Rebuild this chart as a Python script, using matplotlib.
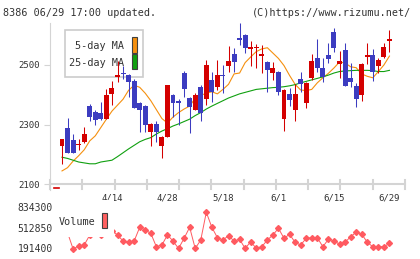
import numpy as np
import matplotlib
matplotlib.use("Agg")
import matplotlib.pyplot as plt
from matplotlib.patches import Rectangle
import matplotlib.transforms as mtransforms

plt.rcParams['font.family'] = 'DejaVu Sans Mono'

# daily candles, 4/1 .. 6/29
opens = [2228, 2288, 2248, 2230, 2241, 2362, 2342, 2338, 2318, 2402,
         2460, 2474, 2466, 2446, 2372, 2362, 2275, 2302, 2229, 2258,
         2399, 2379, 2473, 2389, 2349, 2427, 2386, 2450, 2427, 2466,
         2497, 2537, 2592, 2601, 2555, 2556, 2530, 2511, 2473, 2477,
         2318, 2402, 2349, 2453, 2372, 2456, 2525, 2491, 2533, 2612,
         2504, 2550, 2457, 2429, 2399, 2527, 2533, 2497, 2528, 2582]
highs = [2251, 2322, 2268, 2250, 2292, 2369, 2350, 2376, 2419, 2446,
         2513, 2495, 2470, 2452, 2375, 2365, 2305, 2312, 2260, 2433,
         2403, 2385, 2480, 2392, 2406, 2433, 2517, 2477, 2517, 2500,
         2565, 2558, 2641, 2605, 2580, 2570, 2567, 2513, 2511, 2480,
         2418, 2422, 2436, 2476, 2443, 2537, 2587, 2523, 2574, 2624,
         2547, 2574, 2507, 2440, 2506, 2574, 2554, 2522, 2574, 2617]
lows = [2167, 2204, 2203, 2215, 2237, 2312, 2298, 2314, 2318, 2366,
        2443, 2452, 2392, 2355, 2275, 2275, 2229, 2242, 2188, 2258,
        2325, 2298, 2392, 2271, 2349, 2312, 2366, 2377, 2416, 2406,
        2477, 2477, 2567, 2540, 2497, 2490, 2473, 2410, 2450, 2399,
        2278, 2362, 2312, 2410, 2355, 2450, 2477, 2443, 2507, 2544,
        2456, 2431, 2427, 2360, 2379, 2503, 2446, 2473, 2523, 2545]
closes = [2251, 2204, 2204, 2235, 2268, 2325, 2315, 2318, 2399, 2422,
          2466, 2470, 2443, 2355, 2349, 2298, 2302, 2275, 2258, 2433,
          2373, 2373, 2419, 2359, 2399, 2339, 2500, 2410, 2466, 2463,
          2513, 2510, 2583, 2558, 2562, 2562, 2537, 2483, 2490, 2410,
          2416, 2382, 2402, 2436, 2440, 2513, 2490, 2461, 2520, 2556,
          2513, 2431, 2444, 2386, 2503, 2533, 2477, 2517, 2560, 2587]

ma5 = [2144, 2155, 2177, 2195, 2215, 2245, 2262, 2290, 2318, 2345,
       2365, 2385, 2415, 2432, 2425, 2405, 2380, 2350, 2320, 2305,
       2325, 2340, 2352, 2362, 2388, 2398, 2405, 2410, 2403, 2418,
       2435, 2470, 2473, 2508, 2527, 2545, 2554, 2558, 2540, 2522,
       2498, 2465, 2435, 2416, 2414, 2418, 2440, 2457, 2472, 2490,
       2510, 2507, 2494, 2491, 2470, 2462, 2457, 2478, 2500, 2530]
ma25 = [2190, 2186, 2180, 2174, 2171, 2168, 2168, 2174, 2177, 2180,
        2192, 2205, 2218, 2230, 2242, 2250, 2256, 2268, 2278, 2286,
        2295, 2302, 2310, 2318, 2330, 2340, 2352, 2362, 2371, 2380,
        2389, 2396, 2403, 2408, 2413, 2418, 2420, 2422, 2424, 2425,
        2427, 2430, 2434, 2440, 2445, 2450, 2455, 2460, 2466, 2473,
        2478, 2480, 2481, 2482, 2482, 2482, 2481, 2478, 2478, 2482]

volume = [480000, 452000, 191400, 239000, 255000, 412000, 490000, 412000, 555000, 485000,
          414000, 318000, 297000, 318000, 536000, 493000, 440000, 228000, 255000, 414000,
          318000, 200000, 361000, 536000, 200000, 334000, 774000, 536000, 371000, 334000,
          403000, 318000, 345000, 200000, 307000, 202000, 228000, 334000, 414000, 520000,
          361000, 425000, 297000, 255000, 361000, 371000, 371000, 228000, 345000, 323000,
          266000, 297000, 387000, 456000, 430000, 297000, 228000, 228000, 228000, 281000]

date_idx = [9, 19, 29, 39, 49, 59]
date_labels = ["4/14", "4/28", "5/18", "6/1", "6/15", "6/29"]
price_ticks = [2100, 2300, 2500]
vol_ticks = [191400, 512850, 834300]

RED = '#d40000'
BLUE = '#3c3cc0'
ORANGE = '#f5900f'
GREEN = '#10a010'
VOLC = '#ff5a60'
GRAY = '#d4d4d4'
TXT = '#333333'

W, H = 420, 259
fig = plt.figure(figsize=(W / 100, H / 100), dpi=100)

def fx(x):
    return x / W

def fy(y):
    return 1 - y / H

ax = fig.add_axes([fx(50), fy(190), fx(405) - fx(50), fy(20) - fy(190)])
xl0, xl1 = -12 / 5.55, 343 / 5.55
ax.set_xlim(xl0, xl1)
ax.set_ylim(2079.9, 2651.2)
for s in ax.spines.values():
    s.set_visible(False)

idx = np.arange(len(closes))
o = np.array(opens); c = np.array(closes)
cols = [RED if cc >= oo else BLUE for oo, cc in zip(o, c)]
ax.vlines(idx, lows, highs, colors=cols, lw=0.75, zorder=3)
body = np.maximum(np.abs(c - o), 4)
ax.bar(idx, body, 0.9, bottom=np.minimum(o, c), color=cols, zorder=4)

ax.plot(idx, ma5, color=ORANGE, lw=0.8, zorder=2)
ax.plot(idx, ma25, color=GREEN, lw=0.8, zorder=2)

# clipped candle before the first day
ax.plot([-1.45, -0.55], [2088, 2088], color=RED, lw=1.2, clip_on=False)

# axis lines and ticks
ax.plot([xl0, xl0], [2080, 2641], color=GRAY, lw=0.8, clip_on=False)
ax.plot([xl0, xl1], [2100, 2100], color=GRAY, lw=1.5, clip_on=False, zorder=1)
for k in range(12):
    x = xl0 + k * (xl1 - xl0) / 11
    ax.plot([x, x], [2082, 2113], color=GRAY, lw=1.5, clip_on=False, zorder=1)

ax.set_yticks(price_ticks)
ax.tick_params(axis='y', length=4.3, width=0.8, color=GRAY, pad=3,
               labelsize=6.5, labelcolor=TXT)
ax.set_xticks(date_idx, date_labels)
ax.tick_params(axis='x', length=0, pad=2.5, labelsize=6.5, labelcolor=TXT)

# legend
def rect(a, x0, y0, x1, y1, **kw):
    r = Rectangle((fx(x0), fy(y1)), fx(x1) - fx(x0), fy(y0) - fy(y1),
                  transform=fig.transFigure, clip_on=False, **kw)
    a.add_patch(r)

rect(ax, 65, 30, 143, 77, fc='white', ec='#cccccc', lw=1.2, zorder=1)
ax.text(fx(124), fy(46), "5-day MA", transform=fig.transFigure, ha='right',
        va='center', fontsize=7.3, color=TXT, zorder=2)
ax.text(fx(124), fy(62.5), "25-day MA", transform=fig.transFigure, ha='right',
        va='center', fontsize=7.3, color=TXT, zorder=2)
rect(ax, 131.7, 37.3, 137.3, 52.7, fc=ORANGE, ec='#404040', lw=0.8, zorder=2)
rect(ax, 131.7, 54, 137.3, 69.3, fc=GREEN, ec='#404040', lw=0.8, zorder=2)

# volume panel
ax2 = fig.add_axes([fx(50), fy(255), fx(405) - fx(50), fy(200) - fy(255)])
ax2.set_xlim(xl0, xl1)
ax2.set_ylim(96200, 969200)
ax2.axis('off')
ax2.plot(idx, volume, color=VOLC, lw=0.7, marker='D', ms=3, mec=VOLC, zorder=3)
tr = mtransforms.blended_transform_factory(ax2.transAxes, ax2.transData)
for v in vol_ticks:
    ax2.text(3 / 355, v, str(v), transform=tr, ha='right', va='center',
             fontsize=7, color=TXT, clip_on=False)
rect(ax2, 55, 200, 114, 237, fc='white', ec='none', zorder=5)
ax2.text(fx(59), fy(222), "Volume", transform=fig.transFigure, ha='left',
         va='center', fontsize=7.3, color=TXT, zorder=6)
rect(ax2, 101.7, 212.7, 107.3, 228.3, fc='#ff6060', ec='#404040', lw=0.8, zorder=6)

fig.text(fx(3), fy(13), "8386 06/29 17:00 updated.", fontsize=7.3, va='center', color=TXT)
fig.text(fx(411), fy(13), "(C)https://www.rizumu.net/", fontsize=7.3, va='center',
         ha='right', color=TXT)

fig.savefig('out.png', dpi=100)
